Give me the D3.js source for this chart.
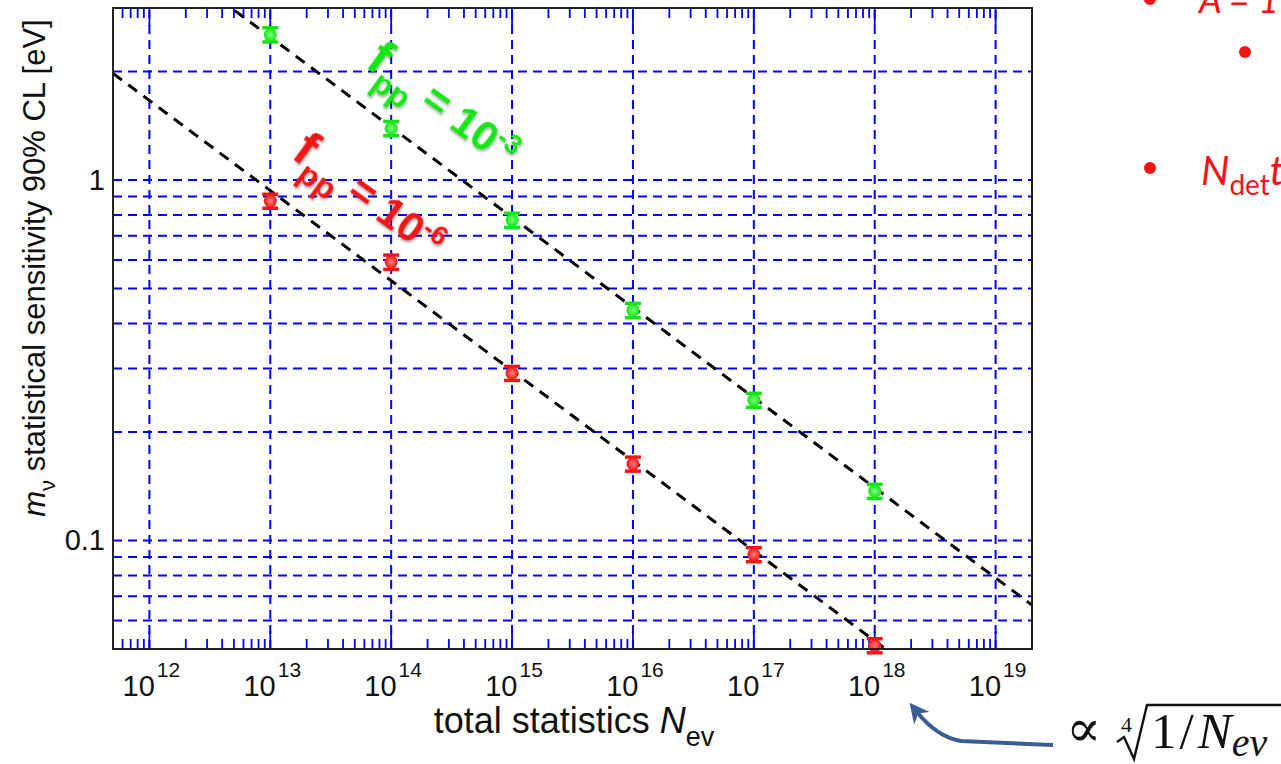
<!doctype html>
<html lang="en">
<head>
    <meta charset="UTF-8">
    <title>m_nu sensitivity vs total statistics</title>
    <style>
        body { margin: 0; background: #fff; }
        svg { display: block; }
    </style>
</head>
<body>
<script src="https://cdn.jsdelivr.net/npm/d3@7"></script>
<script>

    // data
    const nEv = [1e13, 1e14, 1e15, 1e16, 1e17, 1e18]
    const sensGreen = [2.53, 1.39, 0.774, 0.435, 0.245, 0.137]   // f_pp = 1e-3
    const errGreen = [0.115, 0.063, 0.035, 0.02, 0.011, 0.0062]
    const sensRed = [0.874, 0.592, 0.291, 0.163, 0.0914, 0.0511]  // f_pp = 1e-6
    const errRed = [0.039, 0.027, 0.013, 0.0073, 0.0041, 0.0023]

    // dashed N^-1/4 guide lines, end points at the plot edges
    const fitGreenN = [5e11, 2e19]
    const fitGreenM = [5.27, 0.0662]
    const fitRedN = [5e11, 2e19]
    const fitRedM = [1.976, 0.0249]

    const xMajor = [1e12, 1e13, 1e14, 1e15, 1e16, 1e17, 1e18, 1e19]
    const xExp = ['12', '13', '14', '15', '16', '17', '18', '19']
    const yGrid = [0.06, 0.07, 0.08, 0.09, 0.1, 0.2, 0.3, 0.4, 0.5, 0.6, 0.7, 0.8, 0.9, 1, 2]
    const yLabels = [{v: 1, t: '1'}, {v: 0.1, t: '0.1'}]

    const W = 1281, H = 764
    const plot = {left: 113, right: 1032, top: 8, bottom: 649}

    const svg = d3.select('body').append('svg')
        .attr('width', W)
        .attr('height', H)

    const defs = svg.append('defs')
    const shadow = defs.append('filter').attr('id', 'shadow')
        .attr('x', '-20%').attr('y', '-20%').attr('width', '140%').attr('height', '140%')
    shadow.append('feDropShadow')
        .attr('dx', 1.5).attr('dy', 1.5).attr('stdDeviation', 0.8)
        .attr('flood-color', '#000').attr('flood-opacity', 0.35)

    function grad(id, inner, outer) {
        const g = defs.append('radialGradient').attr('id', id)
            .attr('cx', '50%').attr('cy', '50%').attr('r', '50%')
        g.append('stop').attr('offset', '0%').attr('stop-color', inner)
        g.append('stop').attr('offset', '100%').attr('stop-color', outer)
    }
    grad('gGreen', '#80ff80', '#12e612')
    grad('gRed', '#ff8080', '#f21414')

    defs.append('clipPath').attr('id', 'plotclip')
        .append('rect')
        .attr('x', plot.left).attr('y', plot.top)
        .attr('width', plot.right - plot.left).attr('height', plot.bottom - plot.top)

    defs.append('marker').attr('id', 'arrowhead')
        .attr('viewBox', '0 0 10 10')
        .attr('refX', 4).attr('refY', 5)
        .attr('markerWidth', 5).attr('markerHeight', 5)
        .attr('orient', 'auto')
        .append('path').attr('d', 'M0,0 L10,5 L0,10 L3,5 Z').attr('fill', '#3a5d96')

    const x = d3.scaleLog().domain([5e11, 2e19]).range([plot.left, plot.right])
    const y = d3.scaleLog().domain([0.05, 3]).range([plot.bottom, plot.top])

    // grid
    const grid = svg.append('g')
        .attr('stroke', '#0000ff')
        .attr('stroke-width', 2)
        .attr('stroke-dasharray', '9,6')

    grid.selectAll('.gx')
        .data(xMajor)
        .enter()
        .append('line')
        .attr('x1', d => x(d)).attr('x2', d => x(d))
        .attr('y1', plot.bottom).attr('y2', plot.top)

    grid.selectAll('.gy')
        .data(yGrid)
        .enter()
        .append('line')
        .attr('x1', plot.left).attr('x2', plot.right)
        .attr('y1', d => y(d)).attr('y2', d => y(d))

    // x ticks, bottom and top
    const ticks = svg.append('g').attr('stroke', '#0000ff').attr('stroke-width', 1.8)
    const minor = x.ticks().filter(d => xMajor.indexOf(d) < 0 && d > 5e11 && d < 2e19)
    ticks.selectAll('.mb')
        .data(minor).enter().append('line')
        .attr('x1', d => x(d)).attr('x2', d => x(d))
        .attr('y1', plot.bottom).attr('y2', plot.bottom - 10)
    ticks.selectAll('.mt')
        .data(minor).enter().append('line')
        .attr('x1', d => x(d)).attr('x2', d => x(d))
        .attr('y1', plot.top).attr('y2', plot.top + 10)
    ticks.selectAll('.Mb')
        .data(xMajor).enter().append('line')
        .attr('x1', d => x(d)).attr('x2', d => x(d))
        .attr('y1', plot.bottom).attr('y2', plot.bottom - 18)
    ticks.selectAll('.Mt')
        .data(xMajor).enter().append('line')
        .attr('x1', d => x(d)).attr('x2', d => x(d))
        .attr('y1', plot.top).attr('y2', plot.top + 18)

    // guide lines
    const lineGen = d3.line().x(d => x(d[0])).y(d => y(d[1]))
    const fits = [d3.zip(fitGreenN, fitGreenM), d3.zip(fitRedN, fitRedM)]
    svg.append('g').attr('clip-path', 'url(#plotclip)')
        .selectAll('path')
        .data(fits)
        .enter()
        .append('path')
        .attr('d', lineGen)
        .attr('fill', 'none')
        .attr('stroke', '#000')
        .attr('stroke-width', 3)
        .attr('stroke-dasharray', '11,8')

    // points with error bars
    function drawSeries(vals, errs, col, gradId) {
        const pts = nEv.map((n, i) => ({n: n, m: vals[i], e: errs[i]}))
        const g = svg.append('g')
        const bar = g.selectAll('.pt').data(pts).enter().append('g')
        bar.append('line')
            .attr('x1', d => x(d.n)).attr('x2', d => x(d.n))
            .attr('y1', d => y(d.m - d.e)).attr('y2', d => y(d.m + d.e))
            .attr('stroke', col).attr('stroke-width', 3)
        bar.append('line')
            .attr('x1', d => x(d.n) - 8).attr('x2', d => x(d.n) + 8)
            .attr('y1', d => y(d.m - d.e)).attr('y2', d => y(d.m - d.e))
            .attr('stroke', col).attr('stroke-width', 3.5)
        bar.append('line')
            .attr('x1', d => x(d.n) - 8).attr('x2', d => x(d.n) + 8)
            .attr('y1', d => y(d.m + d.e)).attr('y2', d => y(d.m + d.e))
            .attr('stroke', col).attr('stroke-width', 3.5)
        bar.append('circle')
            .attr('cx', d => x(d.n)).attr('cy', d => y(d.m))
            .attr('r', 6.5)
            .attr('fill', `url(#${gradId})`)
    }
    drawSeries(sensGreen, errGreen, '#12e612', 'gGreen')
    drawSeries(sensRed, errRed, '#f21414', 'gRed')

    // box
    svg.append('rect')
        .attr('x', plot.left).attr('y', plot.top)
        .attr('width', plot.right - plot.left).attr('height', plot.bottom - plot.top)
        .attr('fill', 'none')
        .attr('stroke', '#222')
        .attr('stroke-width', 2)

    // tick labels
    const font = 'Liberation Sans, Arial, Helvetica, sans-serif'
    const xl = svg.append('g').attr('font-family', font).attr('fill', '#111')
    xMajor.forEach((v, i) => {
        const t = xl.append('text')
            .attr('x', x(v) + 2)
            .attr('y', 696)
            .attr('text-anchor', 'middle')
            .attr('font-size', 29)
        t.append('tspan').text('10')
        t.append('tspan').attr('dy', -19).attr('dx', 2).attr('font-size', 21).text(xExp[i])
    })

    xl.selectAll('.yl')
        .data(yLabels)
        .enter()
        .append('text')
        .attr('x', 105)
        .attr('y', d => y(d.v) + 10)
        .attr('text-anchor', 'end')
        .attr('font-size', 29)
        .text(d => d.t)

    // axis titles
    const xt = svg.append('text')
        .attr('x', 574).attr('y', 733)
        .attr('text-anchor', 'middle')
        .attr('font-family', font)
        .attr('font-size', 36)
        .attr('fill', '#111')
    xt.append('tspan').text('total statistics ')
    xt.append('tspan').attr('font-style', 'italic').text('N')
    xt.append('tspan').attr('dy', 13).attr('font-size', 27).text('ev')

    const yt = svg.append('text')
        .attr('transform', 'translate(45,268) rotate(-90)')
        .attr('text-anchor', 'middle')
        .attr('font-family', font)
        .attr('font-size', 31)
        .attr('fill', '#111')
    yt.append('tspan').attr('font-style', 'italic').text('m')
    yt.append('tspan').attr('dy', 10).attr('font-size', 22).text('ν')
    yt.append('tspan').attr('dy', -10).text(' statistical sensitivity 90% CL [eV]')

    // f_pp labels along the lines
    function fLabel(px, py, col, exp) {
        const t = svg.append('text')
            .attr('transform', `translate(${px},${py}) rotate(36)`)
            .attr('font-family', font)
            .attr('font-weight', 'bold')
            .attr('fill', col)
            .attr('filter', 'url(#shadow)')
            .attr('font-size', 42)
        t.append('tspan').attr('font-size', 50).text('f')
        t.append('tspan').attr('dy', 14).attr('font-size', 32).text('pp')
        t.append('tspan').attr('dy', -14).text(' = 10')
        t.append('tspan').attr('dy', -15).attr('font-size', 27).text(exp)
    }
    fLabel(364, 66, '#12e612', '-3')
    fLabel(290, 157, '#f21414', '-6')

    // right-hand slide text (cut off by the frame)
    const side = svg.append('g').attr('fill', '#f21414').attr('font-family', 'Lato, Open Sans, sans-serif')
    side.append('circle').attr('cx', 1150).attr('cy', -1).attr('r', 6)
    side.append('text').attr('x', 1199).attr('y', 13).attr('font-size', 36)
        .attr('font-style', 'italic').text('A = 1')
    side.append('circle').attr('cx', 1245).attr('cy', 52).attr('r', 6)
    side.append('circle').attr('cx', 1150).attr('cy', 168).attr('r', 6)
    const nd = side.append('text').attr('x', 1201).attr('y', 185).attr('font-size', 40)
    nd.append('tspan').attr('font-style', 'italic').text('N')
    nd.append('tspan').attr('dy', 10).attr('font-size', 28).text('det')
    nd.append('tspan').attr('dy', -10).attr('font-style', 'italic').text('t')

    // arrow and formula
    svg.append('path')
        .attr('d', 'M1053,745 L961,741 Q937,737 917,712')
        .attr('fill', 'none')
        .attr('stroke', '#3a5d96')
        .attr('stroke-width', 4)
        .attr('marker-end', 'url(#arrowhead)')

    const serif = 'Liberation Serif, DejaVu Serif, serif'
    const fm = svg.append('g').attr('fill', '#111').attr('font-family', serif)
    fm.append('text').attr('x', 1066).attr('y', 746).attr('font-size', 52)
        .attr('font-family', 'DejaVu Serif, serif').text('∝')
    fm.append('text').attr('x', 1121).attr('y', 732).attr('font-size', 22).text('4')
    fm.append('path')
        .attr('d', 'M1117,742 L1124,737 L1134,759 L1147,705 L1285,705')
        .attr('fill', 'none').attr('stroke', '#111').attr('stroke-width', 2.4)
    const rad = fm.append('text').attr('x', 1151).attr('y', 748).attr('font-size', 51)
    rad.append('tspan').text('1')
    rad.append('tspan').attr('dx', 3).text('/')
    rad.append('tspan').attr('dx', 4).attr('font-style', 'italic').text('N')
    rad.append('tspan').attr('dy', 8).attr('font-size', 40).attr('font-style', 'italic').text('ev')

</script>
</body>
</html>
